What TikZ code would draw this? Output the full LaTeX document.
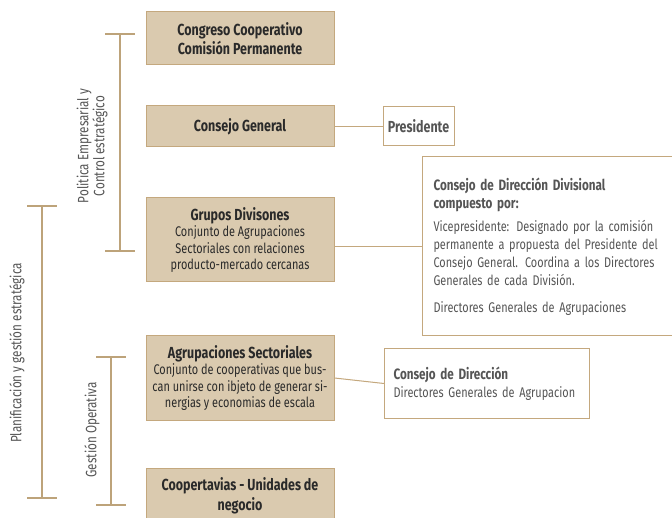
\documentclass[tikz,border=0pt]{standalone}
\usepackage{fontspec}
\setmainfont{Fira Sans}[FakeStretch=0.78]
\definecolor{boxfill}{HTML}{DACAAF}
\definecolor{boxline}{HTML}{C4A87E}
\definecolor{bracketline}{HTML}{BDA37A}
\definecolor{boxtext}{HTML}{2A2A2A}
\definecolor{notetext}{HTML}{555555}
\newcommand{\titlesize}{\fontsize{16}{19.5}\selectfont}
\newcommand{\textsizeb}{\fontsize{14}{16.5}\selectfont}
\newcommand{\notesize}{\fontsize{14}{18}\selectfont}
\newcommand{\headsize}{\fontsize{15}{19}\selectfont}
\begin{document}
\begin{tikzpicture}[x=1pt,y=-1pt,
    tanbox/.style={draw=boxline, fill=boxfill, line width=1pt, minimum width=188pt, align=center, text=boxtext, inner sep=0pt},
    notebox/.style={draw=boxline, fill=white, line width=1pt, align=left, text=notetext, inner sep=0pt, font=\notesize},
    bracket/.style={bracketline, line width=2.5pt},
    side/.style={rotate=90, align=center, text=notetext, font=\fontsize{15}{16}\selectfont}]
  \useasboundingbox (0,0) rectangle (672,518);
  \clip (0,0) rectangle (672,518);
  % left column
  \node[tanbox, minimum height=53pt, font=\titlesize\bfseries] (congreso) at (240,38.5) {Congreso Cooperativo\\ Comisión Permanente};
  \node[tanbox, minimum height=41pt, font=\titlesize\bfseries] (consejo) at (240,126.5) {Consejo General};
  \node[tanbox, minimum height=84pt, font=\textsizeb] (grupos) at (240,240) {{\titlesize\bfseries Grupos Divisones}\\ Conjunto de Agrupaciones\\ Sectoriales con relaciones\\ producto-mercado cercanas};
  \node[tanbox, minimum height=84pt, font=\textsizeb] (agrup) at (240,378) {{\titlesize\bfseries Agrupaciones Sectoriales}\\ Conjunto de cooperativas que bus-\\ can unirse con ibjeto de generar si-\\ nergias y economias de escala};
  \node[tanbox, minimum height=62pt, font=\titlesize\bfseries] (coop) at (240,499) {Coopertavias - Unidades de\\ negocio\\[-10pt]};
  % right column
  \node[notebox, minimum width=71pt, minimum height=39pt, align=center, font=\titlesize\bfseries] (presidente) at (418.5,126.5) {Presidente};
  \node[notebox, minimum width=254pt, minimum height=179pt, anchor=west, text width=232pt, inner xsep=9pt] (divisional) at (422,246.5) {%
    {\headsize\bfseries Consejo de Dirección Divisional}\\
    {\headsize\bfseries compuesto por:}\\[5pt]
    Vicepresidente: Designado por la comisión\\ permanente a propuesta del Presidente del\\ Consejo General. Coordina a los Directores\\ Generales de cada División.\\[9pt]
    Directores Generales de Agrupaciones};
  \node[notebox, minimum width=205pt, minimum height=69pt, anchor=west, text width=187pt, inner xsep=9pt] (direccion) at (384,383.5) {%
    {\headsize\bfseries Consejo de Dirección}\\
    Directores Generales de Agrupacion};
  % connectors
  \draw[boxline, line width=1pt] (consejo.east) -- (presidente.west);
  \draw[boxline, line width=1pt] (divisional.west) -- (divisional.west -| grupos.east);
  \draw[boxline, line width=1pt] (agrup.east) -- (direccion.west);
  % brackets
  \draw[bracket] (105,34) -- (135,34) (120,34) -- (120,251) (105,251) -- (135,251);
  \draw[bracket] (27,206) -- (57,206) (42,206) -- (42,498) (27,498) -- (57,498);
  \draw[bracket] (96,357) -- (126,357) (111,357) -- (111,505) (96,505) -- (126,505);
  \node[side] (politica) at (92,146) {Politica Empresarial y\\ Control estratégico};
  \node[side] (planif) at (17,353) {Planificación y gestión estratégica};
  \node[side] (gestion) at (92,430) {Gestión Operativa};
\end{tikzpicture}
\end{document}
